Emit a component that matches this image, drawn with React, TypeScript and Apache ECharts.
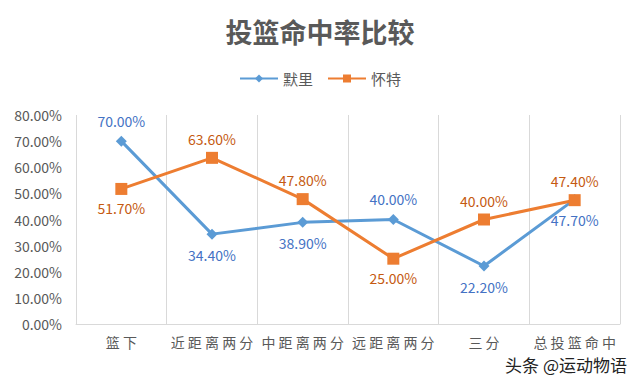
import React, { useEffect, useRef } from "react";
import * as echarts from "echarts";

const categories = ["篮下", "近距离两分", "中距离两分", "远距离两分", "三分", "总投篮命中"];
const murrayValues = [70.0, 34.4, 38.9, 40.0, 22.2, 47.7];
const whiteValues = [51.7, 63.6, 47.8, 25.0, 40.0, 47.4];
const murrayLabelPos = ["top", "bottom", "bottom", "top", "bottom", "bottom"];
const whiteLabelPos = ["bottom", "top", "top", "bottom", "top", "top"];
const seriesNames = ["默里", "怀特"];
const titleText = "投篮命中率比较";
const watermark = "头条 @运动物语";

const FONT = "'Noto Sans CJK SC', 'Noto Sans', sans-serif";

export default function App() {
  const ref = useRef<HTMLDivElement>(null);
  useEffect(() => {
    if (!ref.current) return;
    const chart = echarts.init(ref.current, null, { renderer: "svg" });
    const mk = (vals: number[], pos: string[], dist: number) =>
      vals.map((v, i) => ({ value: v, label: { position: pos[i], distance: dist } }));
    chart.setOption({
      animation: false,
      backgroundColor: "#e3e3e3",
      textStyle: { fontFamily: FONT },
      graphic: [
        {
          type: "rect",
          shape: { x: 3, y: 3, width: 630, height: 377 },
          style: { fill: "#ffffff" },
          z: -10,
          silent: true,
        },
        {
          type: "text",
          right: 12,
          top: 355,
          style: {
            text: watermark,
            fontSize: 17,
            fontFamily: FONT,
            fill: "#222222",
            stroke: "#ffffff",
            lineWidth: 2,
          },
          z: 100,
        },
      ],
      title: {
        text: titleText,
        left: "center",
        top: 13,
        textStyle: { fontSize: 27, fontWeight: "bold", color: "#595959", fontFamily: FONT },
      },
      legend: {
        top: 66,
        left: "center",
        itemWidth: 38,
        itemHeight: 10,
        itemGap: 14,
        textStyle: { fontSize: 15, color: "#595959", fontFamily: FONT },
        data: seriesNames,
      },
      grid: { left: 76, right: 20, top: 115, bottom: 61 },
      xAxis: {
        type: "category",
        data: categories,
        boundaryGap: true,
        axisTick: { show: false },
        axisLine: { lineStyle: { color: "#d9d9d9", width: 1 } },
        splitLine: { show: true, lineStyle: { color: "#d9d9d9", width: 1 } },
        axisLabel: {
          color: "#595959",
          fontSize: 14,
          margin: 11,
          interval: 0,
          formatter: (v: string) => v.split("").join(" "),
        },
      },
      yAxis: {
        type: "value",
        min: 0,
        max: 80,
        interval: 10,
        axisLine: { show: false },
        axisTick: { show: false },
        splitLine: { show: false },
        axisLabel: {
          color: "#595959",
          fontSize: 14,
          margin: 14,
          formatter: (v: number) => v.toFixed(2) + "%",
        },
      },
      series: [
        {
          name: seriesNames[0],
          type: "line",
          data: mk(murrayValues, murrayLabelPos, 8),
          symbol: "diamond",
          symbolSize: 11,
          itemStyle: { color: "#5b9bd5" },
          lineStyle: { color: "#5b9bd5", width: 3 },
          label: {
            show: true,
            color: "#4472c4",
            fontSize: 14,
            formatter: (p: any) => p.value.toFixed(2) + "%",
          },
        },
        {
          name: seriesNames[1],
          type: "line",
          data: mk(whiteValues, whiteLabelPos, 6),
          symbol: "rect",
          symbolSize: 12,
          itemStyle: { color: "#ed7d31" },
          lineStyle: { color: "#ed7d31", width: 3 },
          label: {
            show: true,
            color: "#c55a11",
            fontSize: 14,
            formatter: (p: any) => p.value.toFixed(2) + "%",
          },
        },
      ],
    });
    return () => chart.dispose();
  }, []);
  return <div ref={ref} style={{ width: 640, height: 385, margin: -8 }} />;
}
